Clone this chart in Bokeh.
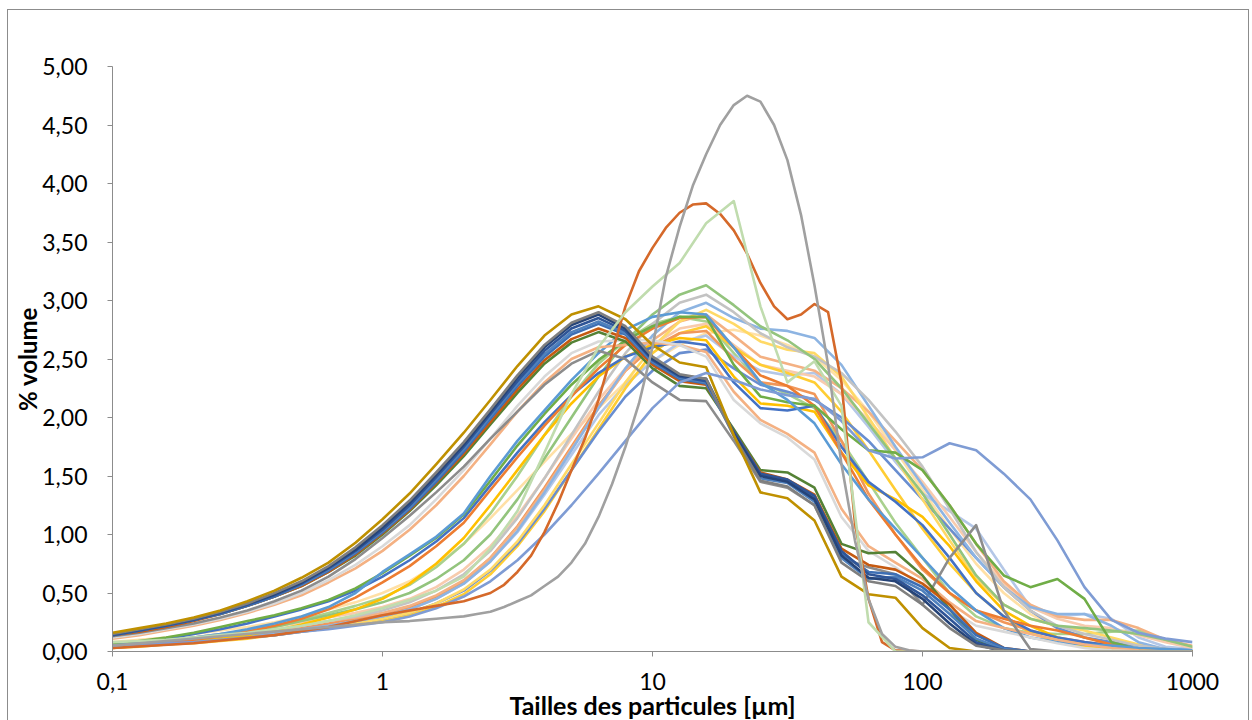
from bokeh.plotting import figure
from bokeh.models import Range1d, FixedTicker, CustomJSTickFormatter, InlineStyleSheet
from bokeh.embed import file_html
from bokeh.resources import INLINE

# particle sizes (µm), 10 classes per decade
SIZES = [0.1, 0.126, 0.158, 0.2, 0.251, 0.316, 0.398, 0.501, 0.631, 0.794,
         1.0, 1.26, 1.58, 2.0, 2.51, 3.16, 3.98, 5.01, 6.31, 7.94,
         10.0, 12.6, 15.8, 20.0, 25.1, 31.6, 39.8, 50.1, 63.1, 79.4,
         100.0, 126.0, 158.0, 200.0, 251.0, 316.0, 398.0, 501.0, 631.0, 794.0,
         1000.0]

# finer size classes (20 per decade) read for the two sharpest curves
SIZES_GRAY = [0.1, 0.158, 0.251, 0.398, 0.631,
              1.0, 1.12, 1.26, 1.41, 1.58, 1.78, 2.0, 2.24, 2.51, 2.82,
              3.16, 3.55, 3.98, 4.47, 5.01, 5.62, 6.31, 7.08, 7.94, 8.91,
              10.0, 11.2, 12.6, 14.1, 15.8, 17.8, 20.0, 22.4, 25.1, 28.2,
              31.6, 35.5, 39.8, 44.7, 50.1, 56.2, 63.1, 70.8, 79.4, 89.1,
              100.0, 1000.0]
SIZES_ORANGE = [0.1, 0.2, 0.398, 0.631, 1.0, 1.58, 2.0,
                2.51, 2.82, 3.16, 3.55, 3.98, 4.47, 5.01, 5.62, 6.31, 7.08,
                7.94, 8.91, 10.0, 11.2, 12.6, 14.1, 15.8, 17.8, 20.0, 22.4,
                25.1, 28.2, 31.6, 35.5, 39.8, 44.7, 50.1, 56.2, 63.1, 70.8,
                79.4, 100.0, 1000.0]

X_TICKS = [0.1, 1, 10, 100, 1000]
Y_TICKS = [0, 0.5, 1, 1.5, 2, 2.5, 3, 3.5, 4, 4.5, 5]

# ---- late-rising samples (peak ~15 µm) ----
late_green = [0.05,0.07,0.09,0.11,0.14,0.17,0.21,0.26,0.31,0.36,
              0.42,0.50,0.62,0.78,1.00,1.30,1.65,2.00,2.35,2.65,
              2.88,3.05,3.13,2.96,2.78,2.66,2.50,2.25,1.95,1.65,
              1.35,1.00,0.65,0.40,0.28,0.22,0.20,0.18,0.15,0.10,0.04]
late_lgray = [0.04,0.06,0.08,0.10,0.12,0.15,0.18,0.22,0.26,0.30,
              0.35,0.42,0.52,0.66,0.86,1.14,1.48,1.85,2.22,2.55,
              2.80,2.98,3.05,2.90,2.72,2.60,2.52,2.38,2.15,1.88,
              1.58,1.22,0.85,0.55,0.35,0.22,0.15,0.10,0.05,0.02,0.0]
late_lblue = [0.04,0.05,0.07,0.09,0.11,0.13,0.16,0.19,0.22,0.26,
              0.30,0.36,0.45,0.58,0.77,1.03,1.36,1.72,2.08,2.42,
              2.70,2.90,2.98,2.85,2.76,2.74,2.68,2.45,2.10,1.75,
              1.42,1.10,0.80,0.55,0.38,0.32,0.32,0.22,0.08,0.02,0.0]
late_yellow = [0.04,0.05,0.07,0.08,0.10,0.12,0.15,0.18,0.21,0.24,
               0.28,0.33,0.41,0.53,0.70,0.94,1.25,1.60,1.95,2.30,
               2.60,2.82,2.92,2.80,2.65,2.58,2.55,2.35,2.00,1.65,
               1.30,0.95,0.62,0.40,0.28,0.22,0.18,0.12,0.06,0.02,0.0]
late_salmon = [0.05,0.06,0.08,0.10,0.12,0.15,0.18,0.22,0.26,0.29,
               0.33,0.39,0.48,0.61,0.80,1.06,1.38,1.73,2.08,2.40,
               2.66,2.82,2.88,2.70,2.52,2.46,2.40,2.25,2.05,1.80,
               1.55,1.25,0.92,0.60,0.40,0.30,0.27,0.27,0.20,0.10,0.05]
late_lsalmon = [0.06,0.08,0.10,0.12,0.15,0.18,0.21,0.25,0.29,0.33,
                0.38,0.45,0.55,0.70,0.90,1.16,1.48,1.82,2.15,2.42,
                2.62,2.76,2.80,2.62,2.45,2.40,2.35,2.20,1.98,1.72,
                1.45,1.15,0.85,0.58,0.38,0.28,0.22,0.20,0.14,0.08,0.03]
late_bluegray = [0.04,0.05,0.07,0.09,0.11,0.13,0.16,0.19,0.22,0.26,
                 0.30,0.36,0.45,0.58,0.77,1.02,1.34,1.68,2.02,2.28,
                 2.48,2.64,2.70,2.52,2.40,2.36,2.38,2.20,1.92,1.62,
                 1.35,1.20,1.05,0.70,0.38,0.30,0.32,0.28,0.12,0.04,0.02]
late_peach = [0.08,0.10,0.12,0.15,0.18,0.21,0.25,0.30,0.36,0.42,
              0.50,0.60,0.74,0.92,1.14,1.38,1.62,1.86,2.08,2.30,
              2.48,2.62,2.72,2.75,2.70,2.62,2.52,2.32,2.05,1.72,
              1.38,1.05,0.75,0.50,0.32,0.20,0.12,0.06,0.02,0.0,0.0]
late_lgreen = [0.06,0.08,0.10,0.12,0.15,0.18,0.22,0.27,0.33,0.39,
               0.46,0.57,0.72,0.92,1.18,1.50,1.85,2.18,2.46,2.66,
               2.80,2.86,2.82,2.55,2.30,2.20,2.08,1.80,1.45,1.10,
               0.80,0.50,0.30,0.20,0.16,0.15,0.15,0.17,0.18,0.10,0.03]
late_lorange = [0.04,0.05,0.07,0.09,0.11,0.14,0.17,0.20,0.24,0.28,
                0.32,0.38,0.47,0.60,0.80,1.07,1.40,1.75,2.10,2.40,
                2.60,2.72,2.74,2.50,2.30,2.27,2.20,1.80,1.35,1.00,
                0.70,0.50,0.35,0.25,0.18,0.12,0.08,0.05,0.02,0.0,0.0]
late_gold = [0.03,0.04,0.06,0.07,0.09,0.11,0.14,0.17,0.20,0.23,
             0.26,0.31,0.38,0.49,0.66,0.90,1.20,1.55,1.90,2.25,
             2.55,2.72,2.78,2.60,2.45,2.38,2.30,2.05,1.72,1.38,
             1.05,0.75,0.50,0.30,0.16,0.08,0.04,0.02,0.0,0.0,0.0]
late_blue = [0.04,0.05,0.06,0.08,0.10,0.12,0.14,0.17,0.20,0.24,
             0.28,0.33,0.41,0.52,0.69,0.92,1.22,1.55,1.88,2.18,
             2.40,2.55,2.58,2.42,2.28,2.22,2.15,2.00,1.80,1.55,
             1.30,1.05,0.80,0.55,0.35,0.20,0.12,0.08,0.05,0.02,0.01]

# ---- early-rising samples ----
early_blue = [0.05,0.07,0.09,0.12,0.15,0.19,0.24,0.30,0.38,0.50,
              0.68,0.83,0.98,1.18,1.50,1.80,2.06,2.32,2.55,2.75,
              2.86,2.90,2.88,2.60,2.30,2.15,1.95,1.60,1.30,1.05,
              0.80,0.55,0.35,0.20,0.12,0.08,0.06,0.05,0.03,0.02,0.01]
early_green = [0.06,0.09,0.12,0.16,0.21,0.26,0.31,0.37,0.44,0.54,
               0.67,0.82,0.97,1.17,1.46,1.76,2.03,2.28,2.49,2.66,
               2.78,2.86,2.86,2.45,2.18,2.13,2.10,1.90,1.72,1.70,
               1.55,1.25,0.92,0.65,0.55,0.62,0.45,0.08,0.02,0.0,0.0]
early_orange = [0.03,0.05,0.07,0.10,0.13,0.17,0.22,0.28,0.36,0.46,
                0.59,0.73,0.90,1.10,1.38,1.66,1.93,2.18,2.42,2.62,
                2.76,2.85,2.86,2.60,2.36,2.27,2.10,1.70,1.30,1.00,
                0.72,0.50,0.35,0.28,0.22,0.18,0.12,0.06,0.02,0.01,0.0]
early_blue2 = [0.05,0.08,0.11,0.15,0.19,0.24,0.30,0.36,0.43,0.52,
               0.64,0.78,0.94,1.14,1.42,1.70,1.96,2.19,2.38,2.52,
               2.60,2.65,2.62,2.30,2.08,2.06,2.10,1.75,1.45,1.28,
               1.08,0.80,0.50,0.30,0.18,0.12,0.08,0.05,0.02,0.0,0.0]
early_gold = [0.04,0.05,0.07,0.09,0.11,0.14,0.18,0.23,0.29,0.36,
              0.45,0.58,0.75,0.97,1.25,1.55,1.85,2.12,2.35,2.52,
              2.62,2.68,2.66,2.35,2.12,2.10,2.05,1.70,1.42,1.30,
              1.15,0.90,0.60,0.35,0.22,0.12,0.06,0.02,0.0,0.0,0.0]

# ---- intermediate samples ----
int_lgray = [0.12,0.15,0.19,0.23,0.28,0.34,0.41,0.50,0.61,0.74,
             0.90,1.08,1.30,1.55,1.82,2.10,2.35,2.55,2.65,2.66,
             2.66,2.62,2.52,2.15,1.95,1.83,1.64,1.15,0.86,0.72,
             0.55,0.36,0.22,0.17,0.12,0.07,0.03,0.01,0.0,0.0,0.0]
int_salmon = [0.11,0.14,0.18,0.22,0.27,0.33,0.40,0.48,0.59,0.71,
              0.86,1.04,1.25,1.50,1.77,2.05,2.30,2.50,2.60,2.62,
              2.64,2.62,2.56,2.22,1.98,1.86,1.70,1.22,0.90,0.76,
              0.62,0.42,0.26,0.20,0.15,0.10,0.06,0.03,0.01,0.0,0.0]

# ---- fine samples (peak ~6 µm) ----
gray_mid = [0.13,0.16,0.20,0.24,0.29,0.35,0.43,0.52,0.64,0.79,
            0.97,1.16,1.36,1.58,1.82,2.05,2.28,2.46,2.57,2.50,
            2.30,2.15,2.14,1.80,1.45,1.40,1.25,0.80,0.72,0.66,
            0.40,0.80,1.08,0.35,0.02,0.0,0.0,0.0,0.0,0.0,0.0]
fine_green = [0.15,0.18,0.22,0.27,0.32,0.39,0.47,0.56,0.68,0.82,
              1.00,1.20,1.42,1.67,1.94,2.21,2.46,2.64,2.73,2.65,
              2.42,2.27,2.25,1.90,1.55,1.53,1.40,0.92,0.84,0.85,
              0.65,0.36,0.10,0.01,0.0,0.0,0.0,0.0,0.0,0.0,0.0]
fine_rust = [0.14,0.17,0.21,0.26,0.32,0.39,0.47,0.56,0.68,0.83,
             1.01,1.21,1.44,1.69,1.96,2.24,2.49,2.67,2.76,2.68,
             2.45,2.31,2.28,1.88,1.53,1.47,1.34,0.88,0.74,0.70,
             0.58,0.40,0.16,0.03,0.0,0.0,0.0,0.0,0.0,0.0,0.0]
fine_blue2 = [0.14,0.18,0.22,0.27,0.32,0.39,0.47,0.57,0.69,0.84,
              1.02,1.22,1.45,1.71,1.99,2.27,2.52,2.71,2.80,2.71,
              2.47,2.33,2.29,1.87,1.51,1.46,1.31,0.84,0.68,0.66,
              0.55,0.36,0.14,0.03,0.0,0.0,0.0,0.0,0.0,0.0,0.0]
fine_steel = [0.14,0.18,0.22,0.27,0.33,0.40,0.48,0.57,0.70,0.85,
              1.03,1.23,1.47,1.73,2.01,2.29,2.54,2.73,2.82,2.72,
              2.48,2.34,2.30,1.85,1.48,1.44,1.28,0.80,0.62,0.64,
              0.52,0.32,0.11,0.02,0.0,0.0,0.0,0.0,0.0,0.0,0.0]
fine_blue = [0.14,0.18,0.22,0.27,0.33,0.40,0.48,0.58,0.71,0.86,
             1.04,1.25,1.49,1.75,2.03,2.31,2.57,2.76,2.85,2.74,
             2.49,2.35,2.31,1.88,1.52,1.47,1.33,0.86,0.66,0.62,
             0.48,0.28,0.08,0.01,0.0,0.0,0.0,0.0,0.0,0.0,0.0]
fine_navy = [0.15,0.19,0.23,0.28,0.34,0.41,0.49,0.59,0.72,0.87,
             1.06,1.27,1.51,1.77,2.05,2.34,2.60,2.79,2.88,2.76,
             2.50,2.36,2.33,1.86,1.50,1.45,1.30,0.82,0.63,0.60,
             0.45,0.24,0.06,0.0,0.0,0.0,0.0,0.0,0.0,0.0,0.0]
fine_gray = [0.15,0.19,0.23,0.28,0.34,0.41,0.50,0.60,0.73,0.89,
             1.08,1.29,1.53,1.79,2.07,2.36,2.62,2.81,2.90,2.78,
             2.52,2.37,2.33,1.84,1.46,1.41,1.25,0.76,0.60,0.56,
             0.40,0.20,0.05,0.01,0.0,0.0,0.0,0.0,0.0,0.0,0.0]
fine_gold = [0.16,0.20,0.24,0.29,0.35,0.43,0.52,0.63,0.76,0.93,
             1.13,1.35,1.60,1.87,2.15,2.44,2.70,2.88,2.95,2.84,
             2.62,2.47,2.43,1.85,1.36,1.31,1.12,0.64,0.49,0.46,
             0.20,0.03,0.0,0.0,0.0,0.0,0.0,0.0,0.0,0.0,0.0]

# ---- singular samples ----
purple_broad = [0.04,0.05,0.07,0.08,0.10,0.12,0.14,0.17,0.19,0.22,
                0.25,0.30,0.37,0.47,0.60,0.78,1.00,1.25,1.52,1.80,
                2.08,2.30,2.38,2.32,2.24,2.19,2.16,1.97,1.72,1.65,
                1.66,1.78,1.72,1.52,1.30,0.95,0.55,0.27,0.16,0.11,0.08]
lgreen_jag = [0.08,0.09,0.10,0.12,0.14,0.16,0.19,0.22,0.26,0.31,
              0.37,0.44,0.52,0.64,0.88,1.20,1.70,2.20,2.60,2.90,
              3.12,3.32,3.66,3.85,2.95,2.30,2.48,2.10,0.25,0.0,
              0.0,0.0,0.0,0.0,0.0,0.0,0.0,0.0,0.0,0.0,0.0]
# on SIZES_ORANGE
orange_peak = [0.03,0.07,0.14,0.21,0.31,0.39,0.43,
               0.50,0.57,0.68,0.82,1.02,1.27,1.55,1.82,2.15,2.55,
               2.95,3.25,3.45,3.62,3.75,3.82,3.83,3.74,3.60,3.40,
               3.15,2.95,2.84,2.88,2.97,2.90,2.30,1.10,0.45,0.08,
               0.01,0.0,0.0]
# on SIZES_GRAY
gray_tall = [0.05,0.09,0.13,0.17,0.21,
             0.25,0.255,0.26,0.27,0.28,0.29,0.30,0.32,0.34,0.38,
             0.43,0.48,0.56,0.64,0.76,0.92,1.15,1.43,1.75,2.12,
             2.60,3.20,3.63,3.98,4.25,4.50,4.67,4.75,4.70,4.50,
             4.20,3.73,3.13,2.45,1.60,0.95,0.45,0.15,0.04,0.01,
             0.0,0.0]

SERIES = [
    (SIZES, late_peach, "#FFE0A6"), (SIZES, late_lgreen, "#A9D18E"),
    (SIZES, late_bluegray, "#B4C7E7"), (SIZES, late_lsalmon, "#F8CBAD"),
    (SIZES, late_gold, "#FFCD33"), (SIZES, late_lorange, "#F1975A"),
    (SIZES, late_blue, "#698ED0"), (SIZES, late_salmon, "#F4B183"),
    (SIZES, late_yellow, "#FFD966"), (SIZES, late_lblue, "#8DB4E2"),
    (SIZES, late_lgray, "#C3C3C3"), (SIZES, late_green, "#93C47D"),
    (SIZES, early_gold, "#FFC000"), (SIZES, early_blue2, "#4472C4"),
    (SIZES, early_orange, "#ED7D31"), (SIZES, early_green, "#70AD47"),
    (SIZES, early_blue, "#5B9BD5"),
    (SIZES, int_salmon, "#F4B183"), (SIZES, int_lgray, "#D9D9D9"),
    (SIZES, gray_mid, "#8C8C8C"), (SIZES, fine_green, "#548235"),
    (SIZES, fine_rust, "#C55A11"), (SIZES, fine_blue2, "#3C6EB4"),
    (SIZES, fine_steel, "#4F81BD"), (SIZES, fine_blue, "#2F5597"),
    (SIZES, fine_navy, "#264478"), (SIZES, fine_gray, "#7F7F7F"),
    (SIZES, fine_gold, "#BF9000"),
    (SIZES, purple_broad, "#7F9CD4"), (SIZES_ORANGE, orange_peak, "#D5692A"),
    (SIZES, lgreen_jag, "#C0DCAE"), (SIZES_GRAY, gray_tall, "#A0A0A0"),
]

# canvas sits inside a 1px grey chart border (page x 7..1250, y 9..)
p = figure(width=1242, height=730, x_axis_type="log",
           x_range=Range1d(0.1, 1000), y_range=Range1d(0, 5),
           output_backend="svg", toolbar_location=None,
           min_border_left=104, min_border_right=58,
           min_border_top=56, min_border_bottom=89,
           stylesheets=[InlineStyleSheet(css=":host { margin: 9px 0 0 7px !important; border: 1px solid #8c8c8c; }")])
p.background_fill_color = "white"
p.border_fill_color = "white"
p.outline_line_color = None
p.xgrid.visible = False
p.ygrid.visible = False

for xs, vals, col in SERIES:
    p.line(xs, vals, line_color=col, line_width=2.6, line_join="round")

for ax in (p.xaxis[0], p.yaxis[0]):
    ax.axis_line_color = "#8C8C8C"
    ax.axis_line_width = 1
    ax.major_tick_line_color = "#8C8C8C"
    ax.major_tick_out = 5
    ax.major_tick_in = 0
    ax.minor_tick_out = 0
    ax.minor_tick_in = 0
    ax.major_label_text_font = "Lato"
    ax.major_label_text_font_size = "23px"
    ax.major_label_text_color = "#000000"
    ax.axis_label_text_font = "Lato"
    ax.axis_label_text_font_style = "bold"
    ax.axis_label_text_color = "#000000"

p.yaxis.ticker = FixedTicker(ticks=Y_TICKS)
p.yaxis.formatter = CustomJSTickFormatter(code="return tick.toFixed(2).replace('.', ',');")
p.yaxis.major_label_standoff = 20
p.yaxis.axis_label = "% volume"
p.yaxis.axis_label_text_font_size = "24px"
p.yaxis.axis_label_standoff = -3

p.xaxis.ticker = FixedTicker(ticks=X_TICKS, minor_ticks=[])
p.xaxis.formatter = CustomJSTickFormatter(code="return String(tick).replace('.', ',');")
p.xaxis.major_label_standoff = 16
p.xaxis.axis_label = "Tailles des particules [µm]"
p.xaxis.axis_label_text_font_size = "25px"
p.xaxis.axis_label_standoff = -3

open("out.html", "w").write(file_html(p, INLINE))
